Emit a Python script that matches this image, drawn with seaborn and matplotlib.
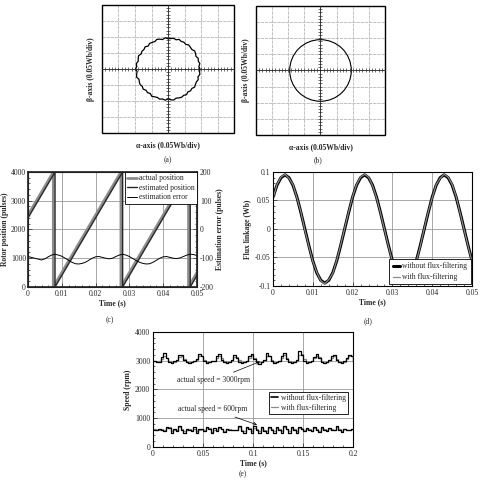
import numpy as np
import matplotlib
matplotlib.use('Agg')
import matplotlib.pyplot as plt
from matplotlib.ticker import MultipleLocator, FuncFormatter
from matplotlib.patches import Rectangle, Circle
import seaborn as sns

sns.set_theme(style="ticks")
plt.rcParams['font.family'] = ['Liberation Serif', 'DejaVu Serif']
plt.rcParams['font.size'] = 5.5

# (a) flux locus, radius in divisions every 5 degrees (noisy)
locus_angle = np.arange(0, 360, 5)
radius_a = [1.93, 1.88, 1.96, 1.90, 1.95, 1.87, 1.93, 1.97, 1.89, 1.92, 1.96, 1.88,
            1.93, 1.90, 1.97, 1.89, 1.95, 1.91, 1.89, 1.96, 1.87, 1.93, 1.97, 1.89,
            1.92, 1.95, 1.87, 1.96, 1.90, 1.93, 1.88, 1.97, 1.92, 1.87, 1.95, 1.90,
            1.96, 1.88, 1.93, 1.97, 1.87, 1.92, 1.95, 1.90, 1.96, 1.88, 1.93, 1.87,
            1.97, 1.92, 1.89, 1.95, 1.90, 1.96, 1.87, 1.93, 1.97, 1.89, 1.92, 1.95,
            1.90, 1.96, 1.87, 1.93, 1.89, 1.97, 1.92, 1.90, 1.95, 1.88, 1.96, 1.92]
# (b) smooth locus
radius_b = 1.91

# (c) rotor position
pos_time = [0, 0.0075, 0.0075, 0.0275, 0.0275, 0.0475, 0.0475, 0.05]
actual_pos = [2500, 4000, 0, 4000, 0, 4000, 0, 500]
est_time = [0, 0.008, 0.008, 0.028, 0.028, 0.048, 0.048, 0.05]
est_pos = [2400, 4000, 0, 4000, 0, 4000, 0, 400]
err_time = np.round(np.arange(51) * 0.001, 4)
est_error = [-94, -97, -100, -103, -106, -102, -95, -89, -86, -89,
             -93, -100, -107, -114, -119, -120, -118, -114, -107, -100,
             -95, -94, -97, -100, -102, -100, -94, -89, -86, -89,
             -94, -101, -108, -114, -118, -120, -119, -114, -107, -100,
             -95, -94, -97, -100, -101, -99, -94, -89, -86, -87, -91]

# (d) flux linkage
flux_time = np.round(np.arange(51) * 0.001, 4)
flux_without = [0.056, 0.077, 0.090, 0.095, 0.090, 0.077, 0.056, 0.029, 0.000, -0.029,
                -0.056, -0.077, -0.090, -0.095, -0.090, -0.077, -0.056, -0.029, 0.000, 0.029,
                0.056, 0.077, 0.090, 0.095, 0.090, 0.077, 0.056, 0.029, 0.000, -0.029,
                -0.056, -0.077, -0.090, -0.095, -0.090, -0.077, -0.056, -0.029, 0.000, 0.029,
                0.056, 0.077, 0.090, 0.095, 0.090, 0.077, 0.056, 0.029, 0.000, -0.029, -0.056]
flux_with = [0.054, 0.078, 0.091, 0.096, 0.089, 0.078, 0.055, 0.030, -0.002, -0.030,
             -0.057, -0.076, -0.091, -0.096, -0.089, -0.078, -0.055, -0.028, 0.001, 0.030,
             0.057, 0.078, 0.091, 0.096, 0.091, 0.076, 0.055, 0.028, -0.001, -0.030,
             -0.057, -0.078, -0.091, -0.094, -0.089, -0.076, -0.057, -0.030, 0.001, 0.030,
             0.055, 0.078, 0.089, 0.096, 0.091, 0.078, 0.057, 0.028, -0.001, -0.030, -0.057]

# (e) speed
speed_time = np.round(np.arange(81) * 0.0025, 4)
speed3000_without = [3000, 2950, 2960, 3120, 3270, 3080, 2960, 2920,
                     2980, 3010, 3190, 3210, 3030, 2940, 2910, 2970,
                     3000, 3060, 3230, 3180, 2990, 2930, 2950, 3000,
                     2990, 3150, 3220, 3040, 2950, 2920, 2960, 3010,
                     3200, 3110, 2970, 2920, 2940, 2990, 3170, 3230,
                     3060, 2960, 2900, 2950, 3010, 3260, 3150, 2980,
                     2930, 2950, 3000, 3180, 3280, 3060, 2940, 2910,
                     2960, 3030, 3340, 3210, 3000, 2930, 2950, 2990,
                     3140, 3240, 3090, 2960, 2920, 2960, 3020, 3170,
                     3210, 3020, 2940, 2910, 2980, 3100, 3200, 3150, 2960]
speed3000_with = [2990, 2980, 3000, 3060, 3180, 3110, 3000, 2950,
                  2970, 3000, 3120, 3180, 3060, 2970, 2940, 2960,
                  3000, 3040, 3160, 3150, 3020, 2960, 2960, 2990,
                  3000, 3100, 3170, 3080, 2980, 2950, 2970, 3000,
                  3130, 3140, 3010, 2950, 2960, 2990, 3110, 3190,
                  3100, 2990, 2940, 2960, 3000, 3160, 3180, 3020,
                  2960, 2960, 2990, 3110, 3200, 3100, 2980, 2940,
                  2960, 3000, 3200, 3220, 3050, 2960, 2950, 2990,
                  3080, 3170, 3130, 3000, 2950, 2960, 3000, 3110,
                  3180, 3070, 2970, 2940, 2970, 3060, 3150, 3160, 3000]
speed600_without = [600, 580, 620, 600, 560, 700, 650, 480,
                    620, 560, 720, 600, 500, 640, 600, 560,
                    690, 500, 620, 610, 560, 700, 620, 480,
                    650, 570, 700, 610, 520, 640, 600, 580,
                    600, 590, 720, 560, 500, 700, 620, 490,
                    720, 600, 480, 700, 560, 500, 710, 600,
                    490, 700, 580, 500, 720, 610, 500, 690,
                    600, 500, 700, 620, 560, 650, 600, 540,
                    690, 580, 520, 700, 590, 560, 650, 600,
                    580, 720, 600, 520, 640, 580, 600, 620, 580]
speed600_with = [620, 600, 600, 640, 580, 660, 680, 540,
                 580, 600, 680, 640, 540, 600, 630, 580,
                 640, 560, 590, 620, 590, 660, 650, 530,
                 600, 590, 660, 640, 560, 610, 620, 590,
                 600, 600, 680, 600, 540, 660, 650, 540,
                 660, 640, 540, 650, 600, 540, 670, 640,
                 540, 650, 610, 540, 680, 640, 540, 650,
                 630, 540, 660, 650, 580, 620, 620, 570,
                 650, 610, 560, 660, 620, 580, 620, 620,
                 590, 680, 630, 560, 610, 600, 600, 610, 600]

FS = 5.5
fmt = FuncFormatter(lambda v, p: f'{round(v, 6) + 0.0:g}')


def scope_axes(ax):
    ax.set_xlim(-4, 4)
    ax.set_ylim(-4, 4)
    ax.set_xticks(range(-4, 5))
    ax.set_yticks(range(-4, 5))
    ax.xaxis.set_minor_locator(MultipleLocator(0.2))
    ax.yaxis.set_minor_locator(MultipleLocator(0.2))
    ax.grid(True, which='major', color='#b8b8b8', lw=0.6, ls=(0, (4, 1)))
    for side in ['left', 'bottom']:
        ax.spines[side].set_position('zero')
        ax.spines[side].set_linewidth(0.6)
    for side in ['top', 'right']:
        ax.spines[side].set_visible(False)
    ax.tick_params(which='both', direction='inout', length=3, width=0.5,
                   labelbottom=False, labelleft=False, color='#333333')
    ax.add_patch(Rectangle((0, 0), 1, 1, transform=ax.transAxes, fill=False,
                           lw=1.0, ec='black', clip_on=False))
    ax.text(-0.05, 0.5, 'β-axis (0.05Wb/div)', transform=ax.transAxes, rotation=90,
            ha='right', va='center', fontsize=FS, fontweight='bold')
    ax.text(0.5, -0.06, 'α-axis (0.05Wb/div)', transform=ax.transAxes,
            ha='center', va='top', fontsize=FS, fontweight='bold')


def plain_axes(ax):
    ax.grid(True, which='major', color='#999999', lw=0.6)
    ax.set_axisbelow(True)
    ax.tick_params(which='both', direction='in', labelsize=FS, pad=2, width=0.5)
    ax.tick_params(which='major', length=3)
    ax.tick_params(which='minor', length=1.5)
    ax.xaxis.set_major_formatter(fmt)
    ax.yaxis.set_major_formatter(fmt)
    for s in ax.spines.values():
        s.set_linewidth(0.8)
        s.set_color('black')


fig = plt.figure(figsize=(4.8, 4.8), dpi=100)

# (a)
ax_a = fig.add_axes([0.2125, 0.7229, 0.275, 0.2667])
ang = np.deg2rad(np.append(locus_angle, locus_angle[0]))
ra = np.append(radius_a, radius_a[0])
sns.lineplot(x=ra * np.cos(ang), y=ra * np.sin(ang), sort=False, estimator=None,
             color='black', lw=0.9, ax=ax_a)
scope_axes(ax_a)

# (b)
ax_b = fig.add_axes([0.5333, 0.7188, 0.2688, 0.2688])
ax_b.add_patch(Circle((0, 0), radius_b, fill=False, ec='black', lw=0.8))
scope_axes(ax_b)

fig.text(0.35, 0.667, '(a)', ha='center', va='center', fontsize=FS)
fig.text(0.6625, 0.667, '(b)', ha='center', va='center', fontsize=FS)

# (c)
ax_c = fig.add_axes([0.0583, 0.4021, 0.3521, 0.2396])
sns.lineplot(x=pos_time, y=actual_pos, sort=False, estimator=None, color='#8c8c8c',
             lw=2.0, ax=ax_c, label='actual position')
sns.lineplot(x=est_time, y=est_pos, sort=False, estimator=None, color='#262626',
             lw=1.0, ax=ax_c, label='estimated position')
ax_c.set_xlim(0, 0.05)
ax_c.set_ylim(0, 4000)
ax_c.xaxis.set_major_locator(MultipleLocator(0.01))
ax_c.xaxis.set_minor_locator(MultipleLocator(0.002))
ax_c.yaxis.set_major_locator(MultipleLocator(1000))
ax_c.yaxis.set_minor_locator(MultipleLocator(200))
plain_axes(ax_c)
ax_c.tick_params(axis='y', pad=1.5)
ax_c.set_xlabel('Time (s)', fontsize=FS, fontweight='bold', labelpad=1)
ax_c.set_ylabel('Rotor position (pulses)', fontsize=FS, fontweight='bold', labelpad=1)

ax_e2 = ax_c.twinx()
sns.lineplot(x=err_time, y=est_error, color='black', lw=0.7, ax=ax_e2,
             label='estimation error')
ax_e2.set_ylim(-200, 200)
ax_e2.yaxis.set_major_locator(MultipleLocator(100))
ax_e2.yaxis.set_minor_locator(MultipleLocator(20))
ax_e2.tick_params(which='both', direction='in', labelsize=FS, pad=2, width=0.5)
ax_e2.tick_params(which='major', length=3)
ax_e2.tick_params(which='minor', length=1.5)
ax_e2.yaxis.set_major_formatter(fmt)
ax_e2.set_ylabel('Estimation error (pulses)', fontsize=FS, fontweight='bold', labelpad=2)
h1, l1 = ax_c.get_legend_handles_labels()
h2, l2 = ax_e2.get_legend_handles_labels()
if ax_c.get_legend():
    ax_c.get_legend().remove()
leg = ax_e2.legend(h1 + h2, l1 + l2, loc='upper right', fontsize=FS, frameon=True,
                   fancybox=False, edgecolor='black', framealpha=1, borderaxespad=0,
                   handlelength=1.2, handletextpad=0.3, labelspacing=0.2, borderpad=0.3)
leg.get_frame().set_linewidth(0.6)
fig.text(0.229, 0.333, '(c)', ha='center', va='center', fontsize=FS)

# (d)
ax_d = fig.add_axes([0.5688, 0.4042, 0.4146, 0.2375])
sns.lineplot(x=flux_time, y=flux_without, color='black', lw=2.2, ax=ax_d,
             label='without flux-filtering')
sns.lineplot(x=flux_time, y=flux_with, color='#8a8a8a', lw=0.9, ax=ax_d,
             label='with flux-filtering')
ax_d.set_xlim(0, 0.05)
ax_d.set_ylim(-0.1, 0.1)
ax_d.xaxis.set_major_locator(MultipleLocator(0.01))
ax_d.xaxis.set_minor_locator(MultipleLocator(0.002))
ax_d.yaxis.set_major_locator(MultipleLocator(0.05))
ax_d.yaxis.set_minor_locator(MultipleLocator(0.01))
plain_axes(ax_d)
ax_d.set_xlabel('Time (s)', fontsize=FS, fontweight='bold', labelpad=1)
ax_d.set_ylabel('Flux linkage (Wb)', fontsize=FS, fontweight='bold', labelpad=2)
leg = ax_d.legend(loc='lower right', fontsize=FS, frameon=True, fancybox=False,
                  edgecolor='black', framealpha=1, borderaxespad=0.2,
                  handlelength=1.0, handletextpad=0.3, labelspacing=0.4, borderpad=0.4)
leg.get_frame().set_linewidth(0.6)
fig.text(0.767, 0.331, '(d)', ha='center', va='center', fontsize=FS)

# (e)
ax_s = fig.add_axes([0.3188, 0.0688, 0.4167, 0.2396])
sns.lineplot(x=speed_time, y=speed3000_with, color='#8a8a8a', lw=0.9, ax=ax_s,
             drawstyle='steps-post', estimator=None)
sns.lineplot(x=speed_time, y=speed600_with, color='#8a8a8a', lw=0.9, ax=ax_s,
             drawstyle='steps-post', estimator=None)
sns.lineplot(x=speed_time, y=speed3000_without, color='black', lw=0.9, ax=ax_s,
             drawstyle='steps-post', estimator=None, label='without flux-filtering')
sns.lineplot(x=speed_time, y=speed600_without, color='black', lw=0.9, ax=ax_s,
             drawstyle='steps-post', estimator=None)
ax_s.set_xlim(0, 0.2)
ax_s.set_ylim(0, 4000)
ax_s.xaxis.set_major_locator(MultipleLocator(0.05))
ax_s.xaxis.set_minor_locator(MultipleLocator(0.01))
ax_s.yaxis.set_major_locator(MultipleLocator(1000))
ax_s.yaxis.set_minor_locator(MultipleLocator(200))
plain_axes(ax_s)
ax_s.set_xlabel('Time (s)', fontsize=FS, fontweight='bold', labelpad=1)
ax_s.set_ylabel('Speed (rpm)', fontsize=FS, fontweight='bold', labelpad=2)
grey_handle = plt.Line2D([], [], color='#8a8a8a', lw=0.9)
black_handle = plt.Line2D([], [], color='black', lw=1.2)
leg = ax_s.legend([black_handle, grey_handle], ['without flux-filtering', 'with flux-filtering'],
                  loc='lower right', bbox_to_anchor=(0.975, 0.287), fontsize=FS,
                  frameon=True, fancybox=False, edgecolor='black', framealpha=1,
                  borderaxespad=0, handlelength=1.0, handletextpad=0.3,
                  labelspacing=0.2, borderpad=0.3)
leg.get_frame().set_linewidth(0.6)
ax_s.annotate('actual speed = 3000rpm', xy=(0.107, 2970), xytext=(0.061, 2330),
              ha='center', va='center', fontsize=FS,
              arrowprops=dict(arrowstyle='->', lw=0.5, color='black', shrinkA=1, shrinkB=0))
ax_s.annotate('actual speed = 600rpm', xy=(0.104, 770), xytext=(0.06, 1310),
              ha='center', va='center', fontsize=FS,
              arrowprops=dict(arrowstyle='->', lw=0.5, color='black', shrinkA=1, shrinkB=0))
fig.text(0.506, 0.003, '(e)', ha='center', va='bottom', fontsize=FS)

fig.savefig('out.png', dpi=100)
